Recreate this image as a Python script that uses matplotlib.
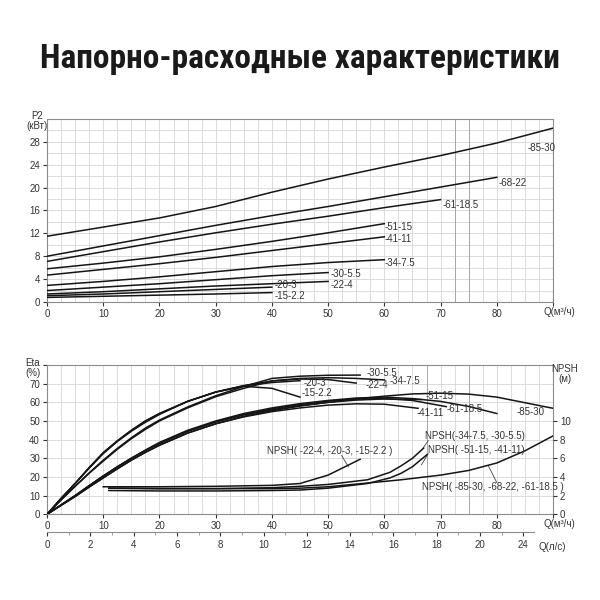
import matplotlib
matplotlib.use("Agg")
import matplotlib.pyplot as plt
from matplotlib import font_manager
import numpy as np

# ---- P2 (power) curves, Q in m3/h ----
q_p2_85 = [0, 10, 20, 30, 40, 50, 60, 70, 80, 90]
p2_85 = [11.5, 13.1, 14.7, 16.7, 19.2, 21.5, 23.6, 25.6, 27.8, 30.4]
q_p2_68 = [0, 10, 20, 30, 40, 50, 60, 70, 80]
p2_68 = [8.0, 9.8, 11.6, 13.4, 15.1, 16.7, 18.4, 20.1, 21.8]
q_p2_61 = [0, 10, 20, 30, 40, 50, 60, 70]
p2_61 = [7.1, 8.8, 10.5, 12.1, 13.6, 15.0, 16.5, 17.9]
q_p2_51 = [0, 10, 20, 30, 40, 50, 60]
p2_51 = [5.8, 6.8, 7.9, 9.2, 10.6, 12.1, 13.7]
q_p2_41 = [0, 10, 20, 30, 40, 50, 60]
p2_41 = [4.7, 5.7, 6.7, 7.8, 9.0, 10.2, 11.4]
q_p2_34 = [0, 10, 20, 30, 40, 50, 60]
p2_34 = [2.9, 3.6, 4.4, 5.3, 6.2, 6.9, 7.4]
q_p2_30 = [0, 10, 20, 30, 40, 50]
p2_30 = [2.0, 2.6, 3.2, 3.9, 4.6, 5.15]
q_p2_22 = [0, 10, 20, 30, 40, 50]
p2_22 = [1.4, 1.8, 2.3, 2.8, 3.2, 3.6]
q_p2_20 = [0, 10, 20, 30, 40]
p2_20 = [1.1, 1.4, 1.8, 2.2, 2.6]
q_p2_15 = [0, 10, 20, 30, 40]
p2_15 = [0.8, 1.0, 1.2, 1.4, 1.65]

p2_curves = [
    ("-85-30", q_p2_85, p2_85, (85.4, 27.0)),
    ("-68-22", q_p2_68, p2_68, (80.3, 20.8)),
    ("-61-18.5", q_p2_61, p2_61, (70.3, 17.0)),
    ("-51-15", q_p2_51, p2_51, (60.1, 13.1)),
    ("-41-11", q_p2_41, p2_41, (60.1, 11.0)),
    ("-34-7.5", q_p2_34, p2_34, (60.1, 6.8)),
    ("-30-5.5", q_p2_30, p2_30, (50.4, 4.9)),
    ("-22-4", q_p2_22, p2_22, (50.4, 3.0)),
    ("-20-3", q_p2_20, p2_20, (40.4, 3.0)),
    ("-15-2.2", q_p2_15, p2_15, (40.4, 1.05)),
]

# ---- Efficiency curves ----
q_eta_15 = [0, 2.5, 5, 7.5, 10, 12.5, 15, 17.5, 20, 25, 30, 35, 40, 45]
eta_15 = [0, 8.5, 16.5, 25, 33, 39.3, 45, 50, 54, 60.5, 65.5, 68.6, 67.5, 62.8]
q_eta_20 = [0, 2.5, 5, 7.5, 10, 12.5, 15, 17.5, 20, 25, 30, 35, 40, 45]
eta_20 = [0, 8.5, 16.5, 25, 33, 39.3, 45, 50, 54, 60.5, 65.5, 68.8, 70.6, 71.6]
q_eta_22 = [0, 2.5, 5, 7.5, 10, 12.5, 15, 17.5, 20, 25, 30, 35, 40, 45, 50, 55]
eta_22 = [0, 8.4, 16.5, 24.7, 32.5, 39, 44.5, 49.3, 53.5, 60.5, 65.5, 69, 71.4, 72.5, 72.2, 70.3]
q_eta_30 = [0, 2.5, 5, 7.5, 10, 12.5, 15, 17.5, 20, 25, 30, 35, 40, 45, 50, 55.7]
eta_30 = [0, 7.7, 15, 22.2, 29, 35.3, 41, 46.2, 50.5, 57.5, 63.5, 68.5, 72.8, 74, 74.5, 74.6]
q_eta_34 = [0, 2.5, 5, 7.5, 10, 12.5, 15, 17.5, 20, 25, 30, 35, 40, 45, 50, 55, 60]
eta_34 = [0, 7.7, 15, 22, 28.5, 34.8, 40.5, 45.5, 50, 57, 63, 67.5, 71.5, 72.8, 73.2, 72.8, 72.0]
q_eta_41 = [0, 2.5, 5, 7.5, 10, 12.5, 15, 17.5, 20, 25, 30, 35, 40, 45, 50, 55, 60, 66]
eta_41 = [0, 4.8, 9.5, 14.6, 19.5, 24.4, 29, 33.2, 37, 43.5, 48.5, 52.2, 55, 57, 58.5, 59.2, 59, 56.8]
q_eta_51 = [0, 2.5, 5, 7.5, 10, 12.5, 15, 17.5, 20, 25, 30, 35, 40, 45, 50, 55, 60, 66.5]
eta_51 = [0, 5, 10, 15.3, 20.5, 25.4, 30, 34.2, 38, 44.5, 49.5, 53.2, 56, 58.2, 60, 61.2, 61.8, 61.5]
q_eta_61 = [0, 2.5, 5, 7.5, 10, 12.5, 15, 17.5, 20, 25, 30, 35, 40, 45, 50, 55, 60, 65, 71]
eta_61 = [0, 5, 10, 15.3, 20.5, 25.4, 30, 34.2, 38, 44.5, 49.5, 53.5, 56.5, 58.8, 60.7, 61.8, 62, 61,
          57.7]
q_eta_68 = [0, 2.5, 5, 7.5, 10, 12.5, 15, 17.5, 20, 25, 30, 35, 40, 45, 50, 55, 60, 65, 70, 75, 80]
eta_68 = [0, 5, 10, 15.3, 20.5, 25.4, 30, 34.4, 38.5, 45, 50, 54, 57, 59.3, 61, 62.3, 62.8, 62, 60.5,
          57.8, 54]
q_eta_85 = [0, 2.5, 5, 7.5, 10, 12.5, 15, 17.5, 20, 25, 30, 35, 40, 45, 50, 55, 60, 65, 70, 75, 80,
            85, 90]
eta_85 = [0, 4.8, 9.5, 14.6, 19.5, 24.3, 29, 33.2, 37, 43.5, 48.5, 52.5, 55.5, 58, 60, 61.8, 63.3,
          64.5, 64.9, 64.4, 62.8, 59.8, 56.8]

eta_curves = [
    ("-15-2.2", q_eta_15, eta_15, (45.3, 64.8)),
    ("-20-3", q_eta_20, eta_20, (45.6, 70.2)),
    ("-22-4", q_eta_22, eta_22, (56.6, 69.3)),
    ("-30-5.5", q_eta_30, eta_30, (56.9, 75.9)),
    ("-34-7.5", q_eta_34, eta_34, (61.0, 71.4)),
    ("-41-11", q_eta_41, eta_41, (65.8, 54.1)),
    ("-51-15", q_eta_51, eta_51, (67.3, 63.4)),
    ("-61-18.5", q_eta_61, eta_61, (71.1, 56.3)),
    ("-68-22", q_eta_68, eta_68, None),
    ("-85-30", q_eta_85, eta_85, (83.6, 55.0)),
]

# ---- NPSH curves (m) ----
q_npsh_22 = [10, 20, 30, 40, 45, 50, 55.7]
npsh_22 = [2.95, 2.95, 3.0, 3.1, 3.3, 4.2, 5.9]
q_npsh_34 = [11, 20, 30, 40, 45, 50, 57, 61, 63, 65, 67]
npsh_34 = [2.8, 2.75, 2.75, 2.85, 3.0, 3.2, 3.7, 4.5, 5.2, 6.0, 7.1]
q_npsh_51 = [11, 20, 30, 40, 45, 50, 57, 61, 63, 65, 67.6]
npsh_51 = [2.55, 2.5, 2.5, 2.55, 2.6, 2.8, 3.3, 3.9, 4.4, 5.1, 6.4]
q_npsh_85 = [11, 20, 30, 40, 45, 50, 57, 63, 70, 75, 80, 85, 90]
npsh_85 = [2.8, 2.75, 2.75, 2.75, 2.8, 2.95, 3.35, 3.7, 4.2, 4.7, 5.5, 6.8, 8.4]

npsh_curves = [
    ("NPSH( -22-4, -20-3, -15-2.2 )", q_npsh_22, npsh_22, (39.1, 6.8), [(52.4, 6.3), (53.6, 5.1)]),
    ("NPSH(-34-7.5, -30-5.5)", q_npsh_34, npsh_34, (67.3, 8.4), [(67.8, 7.9), (66.9, 7.1)]),
    ("NPSH( -51-15, -41-11)", q_npsh_51, npsh_51, (67.8, 6.9), [(67.8, 6.5), (66.6, 5.3)]),
    ("NPSH( -85-30, -68-22, -61-18.5 )", q_npsh_85, npsh_85, (66.7, 2.95), [(80.0, 3.4), (78.5, 5.2)]),
]

eta_ticks = [0, 10, 20, 30, 40, 50, 60, 70]
npsh_ticks = [0, 2, 4, 6, 8, 10]
p2_ticks = [0, 4, 8, 12, 16, 20, 24, 28]
q_ticks = [0, 10, 20, 30, 40, 50, 60, 70, 80]
ls_ticks = [0, 2, 4, 6, 8, 10, 12, 14, 16, 18, 20, 22]
ls_labels = ["0", "2", "4", "6", "8", "10", "12", "14", "16", "18", "20", "24"]

# fonts
available = {f.name for f in font_manager.fontManager.ttflist}
title_font = "DejaVu Sans"
for cand in ["Liberation Sans Narrow", "Roboto Condensed", "Open Sans Condensed", "DejaVu Sans Condensed"]:
    if cand in available:
        title_font = cand
        break
plt.rcParams["font.family"] = ["Liberation Sans", "DejaVu Sans"]

LINE = "#151515"
GRID = "#d6d6d6"
TXT = "#333333"
FS = 7

W = 600.0
fig = plt.figure(figsize=(6, 6), dpi=100)
fig.patch.set_facecolor("white")

fig.text(0.5, 1 - 59 / W, "Напорно-расходные характеристики", ha="center", va="center",
         fontsize=24, weight="bold", family=[title_font, "DejaVu Sans"], color="#1a1a1a")


def style_axes(ax, dark):
    ax.set_xlim(0, 90)
    ax.set_xticks(q_ticks + [90])
    ax.set_xticklabels([str(v) for v in q_ticks] + [""])
    ax.set_xticks(np.arange(0, 90.1, 2.5), minor=True)
    ax.grid(True, which="both", color=GRID, lw=0.6)
    for q in dark:
        ax.axvline(q, color="#a8a8a8", lw=0.7, zorder=1)
    ax.tick_params(which="major", length=3, pad=2, labelsize=FS, colors=TXT)
    ax.tick_params(which="minor", length=0)
    for s in ax.spines.values():
        s.set_color("#8c8c8c")
        s.set_linewidth(0.8)
    ax.set_axisbelow(True)
    ax.annotate("Q(м³/ч)", xy=(1, 0), xycoords="axes fraction", xytext=(-9, -5),
                textcoords="offset pixels", ha="left", va="top", fontsize=FS, color=TXT)


# ---- top: P2 ----
ax1 = fig.add_axes([47 / W, 1 - 302 / W, 506 / W, 183 / W])
style_axes(ax1, [72.5, 75])
ax1.set_ylim(0, 32)
ax1.set_yticks(p2_ticks)
ax1.set_yticks(np.arange(0, 32.1, 2), minor=True)
for name, q, p, pos in p2_curves:
    ax1.plot(q, p, color=LINE, lw=1.1, zorder=3)
    ax1.text(pos[0], pos[1], name, ha="left", va="center", fontsize=FS, color=TXT, zorder=4)
fig.text(37 / W, 1 - 121 / W, "P2\n(кВт)", ha="center", va="center", fontsize=FS,
         color=TXT, linespacing=0.95)

# ---- bottom: Eta + NPSH ----
ax2 = fig.add_axes([47 / W, 1 - 514.3 / W, 506 / W, 149.3 / W])
style_axes(ax2, [67.5, 75])
ax2.set_ylim(0, 80)
ax2.set_yticks(eta_ticks + [80])
ax2.set_yticklabels([str(v) for v in eta_ticks] + [""])
for name, q, e, pos in eta_curves:
    ax2.plot(q, e, color=LINE, lw=1.1, zorder=3)
    if pos is not None:
        ax2.text(pos[0], pos[1], name, ha="left", va="center", fontsize=FS, color=TXT, zorder=4)
fig.text(33 / W, 1 - 368 / W, "Eta\n(%)", ha="center", va="center", fontsize=FS,
         color=TXT, linespacing=0.95)

axn = ax2.twinx()
axn.set_ylim(0, 16)
axn.set_yticks(npsh_ticks)
axn.tick_params(length=3, pad=2, labelsize=FS, colors=TXT)
for s in axn.spines.values():
    s.set_visible(False)
for name, q, n, pos, lead in npsh_curves:
    axn.plot(q, n, color=LINE, lw=1.1, zorder=3)
    axn.text(pos[0], pos[1], name, ha="left", va="center", fontsize=FS, color=TXT, zorder=4)
    axn.plot([lead[0][0], lead[1][0]], [lead[0][1], lead[1][1]], color="#444444", lw=0.6)
fig.text(565 / W, 1 - 374 / W, "NPSH\n(м)", ha="center", va="center", fontsize=FS,
         color=TXT, linespacing=0.95)

# ---- l/s scale ----
ax3 = fig.add_axes([47 / W, 1 - 531.7 / W, 506 / W, 0.0001])
ax3.patch.set_visible(False)
for k in ["left", "right", "top"]:
    ax3.spines[k].set_visible(False)
ax3.spines["bottom"].set_color("#8c8c8c")
ax3.spines["bottom"].set_linewidth(0.8)
ax3.set_xlim(0, 506 / 21.65)
ax3.spines["bottom"].set_bounds(0, 22.5)
ax3.set_yticks([])
ax3.set_xticks(ls_ticks)
ax3.set_xticklabels(ls_labels)
ax3.set_xticks(np.arange(1, 23, 2), minor=True)
ax3.tick_params(which="major", length=3, pad=3, labelsize=FS, colors=TXT)
ax3.tick_params(which="minor", length=2, colors="#8c8c8c")
fig.text(552 / W, 1 - 547 / W, "Q(л/с)", ha="center", va="center", fontsize=FS, color=TXT)

fig.savefig("out.png", dpi=100, facecolor="white")
